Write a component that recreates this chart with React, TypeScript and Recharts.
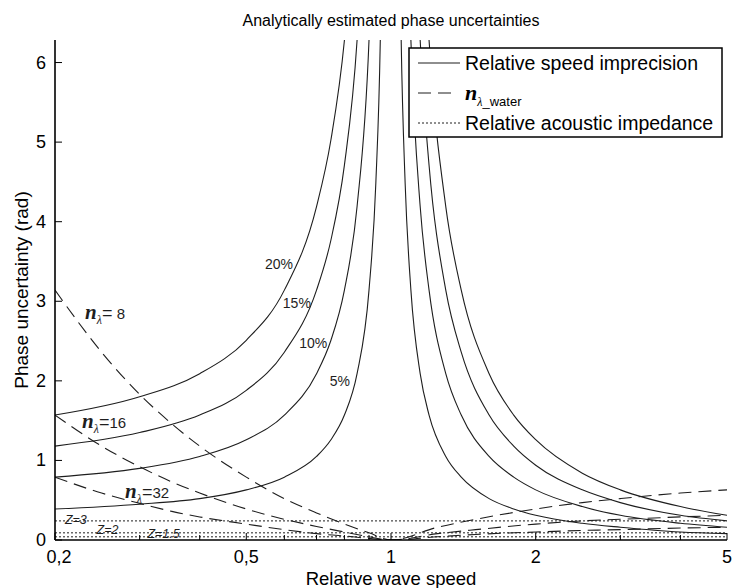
import React from 'react';
import { LineChart, Line, XAxis, YAxis, ReferenceLine, ReferenceDot } from 'recharts';

const SANS = '"Liberation Sans", Arial, Helvetica, sans-serif';
const SERIF = '"Liberation Serif", "Times New Roman", serif';
const INK = '#1e1e1e';

// axes
const Y_MAX = 6.2832; // 2*pi
const yTicks = [0, 1, 2, 3, 4, 5, 6];
const xTicks = [0.2, 0.3, 0.4, 0.5, 0.6, 0.7, 0.8, 0.9, 1, 2, 3, 4, 5];
const xMajor = [0.2, 0.5, 1, 2, 5];
const xMajorLabels = ['0,2', '0,5', '1', '2', '5'];

// relative speed imprecision (solid), broken at relative speed 1
const speedX = [0.2, 0.3, 0.4, 0.5, 0.6, 0.7, 0.75, 0.8, 0.85, 0.9, 0.93, 0.95, 0.97, 1,
  1.03, 1.05, 1.07, 1.1, 1.15, 1.2, 1.3, 1.4, 1.6, 1.8, 2, 2.5, 3, 4, 5];
const imprecision5 = [0.39, 0.45, 0.52, 0.63, 0.79, 1.05, 1.26, 1.57, 2.09, 3.14, 4.49, 6.28, 10.47, null,
  10.47, 6.28, 4.49, 3.14, 2.09, 1.57, 1.05, 0.79, 0.52, 0.39, 0.31, 0.21, 0.16, 0.10, 0.08];
const imprecision10 = [0.79, 0.90, 1.05, 1.26, 1.57, 2.09, 2.51, 3.14, 4.19, 6.28, 8.98, 12.57, 20.94, null,
  20.94, 12.57, 8.98, 6.28, 4.19, 3.14, 2.09, 1.57, 1.05, 0.79, 0.63, 0.42, 0.31, 0.21, 0.16];
const imprecision15 = [1.18, 1.35, 1.57, 1.88, 2.36, 3.14, 3.77, 4.71, 6.28, 9.42, 13.46, 18.85, 31.42, null,
  31.42, 18.85, 13.46, 9.42, 6.28, 4.71, 3.14, 2.36, 1.57, 1.18, 0.94, 0.63, 0.47, 0.31, 0.24];
const imprecision20 = [1.57, 1.80, 2.09, 2.51, 3.14, 4.19, 5.03, 6.28, 8.38, 12.57, 17.95, 25.13, 41.89, null,
  41.89, 25.13, 17.95, 12.57, 8.38, 6.28, 4.19, 3.14, 2.09, 1.57, 1.26, 0.84, 0.63, 0.42, 0.31];

// n_lambda (dashed)
const waterX = [0.2, 0.25, 0.3, 0.35, 0.4, 0.5, 0.6, 0.7, 0.8, 0.9, 1, 1.25, 1.5, 2, 2.5, 3, 4, 5];
const nLambda8 = [3.14, 2.36, 1.83, 1.46, 1.18, 0.79, 0.52, 0.34, 0.20, 0.09, 0, 0.16, 0.26, 0.39, 0.47, 0.52, 0.59, 0.63];
const nLambda16 = [1.57, 1.18, 0.92, 0.73, 0.59, 0.39, 0.26, 0.17, 0.10, 0.04, 0, 0.08, 0.13, 0.20, 0.24, 0.26, 0.29, 0.31];
const nLambda32 = [0.79, 0.59, 0.46, 0.36, 0.29, 0.20, 0.13, 0.08, 0.05, 0.02, 0, 0.04, 0.07, 0.10, 0.12, 0.13, 0.15, 0.16];

// relative acoustic impedance (dotted)
const impedanceNames = ['Z=3', 'Z=2', 'Z=1.5'];
const impedancePhase = [0.24, 0.09, 0.04];

// annotation anchors, in data coordinates
const pctNotes = [
  { text: '5%', x: 0.783, y: 2.0 },
  { text: '10%', x: 0.689, y: 2.48 },
  { text: '15%', x: 0.637, y: 2.98 },
  { text: '20%', x: 0.585, y: 3.47 },
];
const nNotes = [
  { n: ' 8', x: 0.231, y: 2.78 },
  { n: '16', x: 0.2276, y: 1.41 },
  { n: '32', x: 0.2797, y: 0.53 },
];
const zNotes = [
  { x: 0.221, y: 0.25 },
  { x: 0.2572, y: 0.126 },
  { x: 0.3364, y: 0.075 },
];

const toPoints = (xs: number[], ys: (number | null)[]) => xs.map((x, i) => ({ x, y: ys[i] }));

const solidSeries = [imprecision5, imprecision10, imprecision15, imprecision20];
const dashedSeries = [nLambda8, nLambda16, nLambda32];

const BottomTick = (p: any) => {
  const i = xMajor.indexOf(p.payload.value);
  return (
    <g>
      <line x1={p.x} x2={p.x} y1={p.y} y2={p.y - (i >= 0 ? 7 : 5)} stroke="#000" />
      {i >= 0 && (
        <text x={p.x + (i === 0 ? 4 : 0)} y={p.y + 23} textAnchor="middle" fontFamily={SANS} fontSize={18} fill="#000">
          {xMajorLabels[i]}
        </text>
      )}
    </g>
  );
};

const TopTick = (p: any) => {
  const major = xMajor.indexOf(p.payload.value) >= 0;
  return <line x1={p.x} x2={p.x} y1={p.y} y2={p.y + (major ? 7 : 5)} stroke="#000" />;
};

const LeftTick = (p: any) => (
  <g>
    <line x1={p.x} x2={p.x + 7} y1={p.y} y2={p.y} stroke="#000" />
    <text x={p.x - 9} y={p.y + 6} textAnchor="end" fontFamily={SANS} fontSize={18} fill="#000">
      {p.payload.value}
    </text>
  </g>
);

const RightTick = (p: any) => <line x1={p.x} x2={p.x - 7} y1={p.y} y2={p.y} stroke="#000" />;

const PctText = (p: any) => {
  const vb = p.viewBox || p;
  return (
    <text x={vb.x} y={vb.y} dy="0.35em" textAnchor="middle" fontFamily={SANS} fontSize={14} fill={INK}>
      {p.text}
    </text>
  );
};

const NText = (p: any) => {
  const vb = p.viewBox || p;
  return (
    <text x={vb.x} y={vb.y} fill={INK}>
      <tspan fontFamily={SERIF} fontStyle="italic" fontWeight="bold" fontSize={21}>n</tspan>
      <tspan fontFamily={SERIF} fontStyle="italic" fontSize={12} dy={5}>λ</tspan>
      <tspan fontFamily={SANS} fontSize={18} dy={-5}>=</tspan>
      <tspan fontFamily={SANS} fontSize={15}>{p.n}</tspan>
    </text>
  );
};

const ZText = (p: any) => {
  const vb = p.viewBox || p;
  return (
    <text x={vb.x} y={vb.y} dy="0.35em" textAnchor="middle" fontFamily={SANS} fontStyle="italic" fontSize={12.5} fill={INK}>
      {p.text}
    </text>
  );
};

export default function App() {
  const axisLine = { stroke: '#000', strokeWidth: 1.6 };
  return (
    <div style={{ position: 'absolute', left: 0, top: 0, width: 732, height: 588, background: '#fff' }}>
      <LineChart width={732} height={588} margin={{ top: 40, right: 5, bottom: 0, left: 0 }}>
        <XAxis xAxisId={0} dataKey="x" type="number" scale="log" domain={[0.2, 5]} allowDataOverflow
          ticks={xTicks} interval={0} tickLine={false} tickSize={0} tickMargin={0}
          tick={(p: any) => <BottomTick {...p} />} axisLine={axisLine} height={48} />
        <XAxis xAxisId="top" orientation="top" dataKey="x" type="number" scale="log" domain={[0.2, 5]} allowDataOverflow
          ticks={xTicks} interval={0} tickLine={false} tickSize={0} tickMargin={0}
          tick={(p: any) => <TopTick {...p} />} axisLine={axisLine} height={0} />
        <YAxis yAxisId={0} type="number" domain={[0, Y_MAX]} allowDataOverflow ticks={yTicks} interval={0}
          tickLine={false} tickSize={0} tickMargin={0} tick={(p: any) => <LeftTick {...p} />}
          axisLine={axisLine} width={55} />
        <YAxis yAxisId="right" orientation="right" type="number" domain={[0, Y_MAX]} allowDataOverflow ticks={yTicks}
          interval={0} tickLine={false} tickSize={0} tickMargin={0} tick={(p: any) => <RightTick {...p} />}
          axisLine={axisLine} width={0} />

        {impedancePhase.map((v, i) => (
          <ReferenceLine key={impedanceNames[i]} y={v} stroke={INK} strokeWidth={1} strokeDasharray="2 2" />
        ))}

        {dashedSeries.map((s, i) => (
          <Line key={'n' + i} data={toPoints(waterX, s)} dataKey="y" type="monotone" stroke={INK}
            strokeWidth={1.1} strokeDasharray="13 7" dot={false} activeDot={false} isAnimationActive={false} />
        ))}
        {solidSeries.map((s, i) => (
          <Line key={'p' + i} data={toPoints(speedX, s)} dataKey="y" type="monotone" stroke={INK}
            strokeWidth={1.1} dot={false} activeDot={false} connectNulls={false} isAnimationActive={false} />
        ))}

        {pctNotes.map((a) => (
          <ReferenceDot key={a.text} x={a.x} y={a.y} r={0} fill="none" stroke="none" ifOverflow="visible"
            label={(p: any) => <PctText {...p} text={a.text} />} />
        ))}
        {nNotes.map((a) => (
          <ReferenceDot key={'nl' + a.n} x={a.x} y={a.y} r={0} fill="none" stroke="none" ifOverflow="visible"
            label={(p: any) => <NText {...p} n={a.n} />} />
        ))}
        {zNotes.map((a, i) => (
          <ReferenceDot key={impedanceNames[i]} x={a.x} y={a.y} r={0} fill="none" stroke="none" ifOverflow="visible"
            label={(p: any) => <ZText {...p} text={impedanceNames[i]} />} />
        ))}
      </LineChart>

      <svg width={732} height={588} style={{ position: 'absolute', left: 0, top: 0, pointerEvents: 'none' }}>
        <text x={391} y={26} textAnchor="middle" fontFamily={SANS} fontSize={16} fill="#000">
          Analytically estimated phase uncertainties
        </text>
        <text x={391} y={585} textAnchor="middle" fontFamily={SANS} fontSize={18.5} fill="#000">
          Relative wave speed
        </text>
        <text x={28} y={290} transform="rotate(-90 28 290)" textAnchor="middle" fontFamily={SANS} fontSize={19} fill="#000">
          Phase uncertainty (rad)
        </text>

        <rect x={409} y={48} width={313} height={89} fill="#fff" stroke="#000" strokeWidth={1.5} />
        <line x1={418} x2={460} y1={63} y2={63} stroke={INK} strokeWidth={1.1} />
        <text x={465} y={70} fontFamily={SANS} fontSize={19.5} fill="#000">Relative speed imprecision</text>
        <line x1={418} x2={458} y1={93} y2={93} stroke={INK} strokeWidth={1.1} strokeDasharray="13 7" />
        <text x={465} y={100} fill="#000">
          <tspan fontFamily={SERIF} fontStyle="italic" fontWeight="bold" fontSize={22}>n</tspan>
          <tspan fontFamily={SERIF} fontStyle="italic" fontSize={12} dy={6}>λ</tspan>
          <tspan fontFamily={SANS} fontSize={13}>_water</tspan>
        </text>
        <line x1={418} x2={460} y1={123} y2={123} stroke={INK} strokeWidth={1} strokeDasharray="2 2" />
        <text x={465} y={130} fontFamily={SANS} fontSize={19.5} fill="#000">Relative acoustic impedance</text>
      </svg>
    </div>
  );
}
